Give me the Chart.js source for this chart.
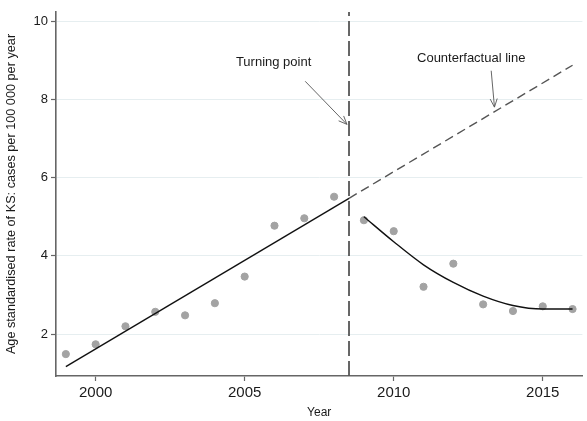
<!DOCTYPE html>
<html>
<head>
<meta charset="utf-8">
<script src="https://cdn.jsdelivr.net/npm/chart.js@4/dist/chart.umd.min.js"></script>
<style>
html,body{margin:0;padding:0;background:#fff;}
#wrap{width:587px;height:421px;position:relative;}
</style>
</head>
<body>
<div id="wrap"><canvas id="c" width="587" height="421"></canvas></div>
<script>
// ---- data ----
const years = [1999,2000,2001,2002,2003,2004,2005,2006,2007,2008,2009,2010,2011,2012,2013,2014,2015,2016];
const rates = [1.49,1.74,2.20,2.57,2.48,2.79,3.47,4.77,4.96,5.51,4.91,4.63,3.21,3.80,2.76,2.59,2.71,2.64];

// pre-turning-point linear fit (endpoints)
const preFitX = [1999, 2008.5];
const preFitY = [1.17, 5.47];
// counterfactual extension
const cfX = [2008.5, 2016];
const cfY = [5.47, 8.87];
// post-turning-point fitted curve
const postFitX = [2009,2010,2011,2012,2013,2014,2015,2016];
const postFitY = [5.00,4.36,3.77,3.32,2.97,2.73,2.64,2.64];
// turning point
const turnX = 2008.5;

const xTicks = [2000,2005,2010,2015];
const yTicks = [2,4,6,8,10];
const xRange = [1998.67, 2016.33];
const yRange = [0.93, 10.23];

// annotations
const annotations = [
  {text:'Turning point', x:2005.97, y:8.94, ax0:[2007.03,8.46], ax1:[2008.43,7.36]},
  {text:'Counterfactual line', x:2012.6, y:9.04, ax0:[2013.27,8.73], ax1:[2013.38,7.80]}
];

const pts = (xs, ys) => xs.map((x,i)=>({x:x, y:ys[i]}));

const annoPlugin = {
  id:'anno',
  afterDatasetsDraw(chart){
    const ctx = chart.ctx, xs = chart.scales.x, ys = chart.scales.y;
    ctx.save();
    annotations.forEach(a=>{
      ctx.fillStyle = '#1a1a1a';
      ctx.font = '13px "Liberation Sans", Arial, sans-serif';
      ctx.textAlign = 'center';
      ctx.textBaseline = 'middle';
      ctx.fillText(a.text, xs.getPixelForValue(a.x), ys.getPixelForValue(a.y));
      const x0 = xs.getPixelForValue(a.ax0[0]), y0 = ys.getPixelForValue(a.ax0[1]);
      const x1 = xs.getPixelForValue(a.ax1[0]), y1 = ys.getPixelForValue(a.ax1[1]);
      ctx.strokeStyle = '#555';
      ctx.lineWidth = 0.9;
      ctx.beginPath(); ctx.moveTo(x0,y0); ctx.lineTo(x1,y1); ctx.stroke();
      const ang = Math.atan2(y1-y0, x1-x0), L = 9, w = 0.4;
      ctx.beginPath();
      ctx.moveTo(x1 - L*Math.cos(ang-w), y1 - L*Math.sin(ang-w));
      ctx.lineTo(x1,y1);
      ctx.lineTo(x1 - L*Math.cos(ang+w), y1 - L*Math.sin(ang+w));
      ctx.stroke();
    });
    ctx.restore();
  }
};

new Chart(document.getElementById('c'), {
  type:'scatter',
  data:{
    datasets:[
      {label:'observed', data:pts(years,rates), backgroundColor:'#a3a3a3', borderColor:'#a3a3a3', pointRadius:3.6, pointHoverRadius:3.6, order:5},
      {label:'preFit', data:pts(preFitX,preFitY), showLine:true, borderColor:'#111', borderWidth:1.4, pointRadius:0, fill:false, order:1},
      {label:'counterfactual', data:pts(cfX,cfY), showLine:true, borderColor:'#555', borderWidth:1.4, borderDash:[9,5], pointRadius:0, fill:false, order:1},
      {label:'postFit', data:pts(postFitX,postFitY), showLine:true, borderColor:'#111', borderWidth:1.4, pointRadius:0, fill:false, cubicInterpolationMode:'monotone', order:1},
      {label:'turning', data:pts([turnX,turnX],[yRange[0],yRange[1]]), showLine:true, borderColor:'#555', borderWidth:1.8, borderDash:[15,5], pointRadius:0, fill:false, order:2}
    ]
  },
  options:{
    responsive:false,
    animation:false,
    events:[],
    layout:{padding:{top:12,right:2,left:0,bottom:0}},
    plugins:{legend:{display:false}, tooltip:{enabled:false}},
    scales:{
      x:{
        type:'linear', min:xRange[0], max:xRange[1],
        afterBuildTicks:s=>{s.ticks = xTicks.map(v=>({value:v}));},
        afterFit:s=>{s.height = 45;},
        grid:{drawOnChartArea:false, drawTicks:true, tickLength:5, tickColor:'#666', tickWidth:1.2},
        border:{color:'#666', width:1.6},
        ticks:{color:'#1a1a1a', font:{size:15, family:'"Liberation Sans", Arial, sans-serif'}, padding:3, maxRotation:0, callback:v=>String(v)},
        title:{display:true, text:'Year', color:'#1a1a1a', font:{size:12, family:'"Liberation Sans", Arial, sans-serif'}, padding:{top:0,bottom:1}}
      },
      y:{
        type:'linear', min:yRange[0], max:yRange[1],
        afterBuildTicks:s=>{s.ticks = yTicks.map(v=>({value:v}));},
        afterFit:s=>{s.width = 56;},
        grid:{color:'#e6eef0', lineWidth:1, drawTicks:true, tickLength:5, tickColor:'#666', tickWidth:1.2},
        border:{color:'#666', width:1.6},
        ticks:{color:'#1a1a1a', font:{size:13, family:'"Liberation Sans", Arial, sans-serif'}, padding:3, callback:v=>String(v)},
        title:{display:true, text:'Age standardised rate of KS: cases per 100 000 per year', color:'#1a1a1a', font:{size:12.7, family:'"Liberation Sans", Arial, sans-serif'}, padding:{top:4,bottom:0}}
      }
    }
  },
  plugins:[annoPlugin]
});
</script>
</body>
</html>
